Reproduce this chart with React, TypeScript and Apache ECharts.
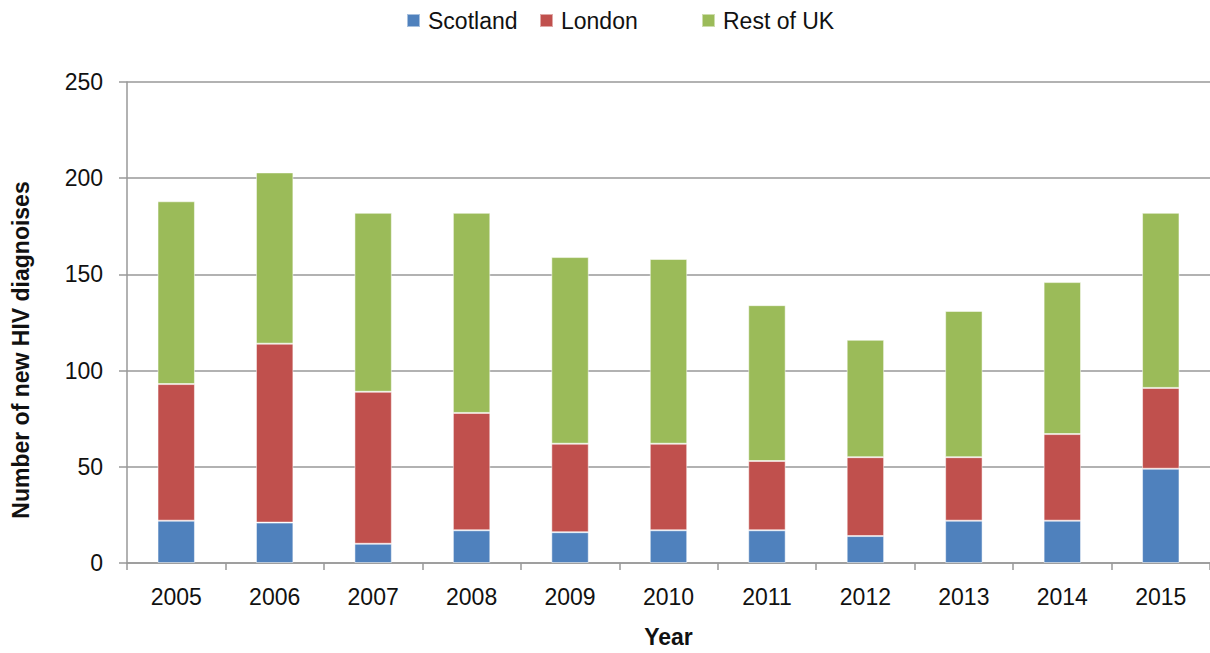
import React, { useEffect, useRef } from "react";
import * as echarts from "echarts";

const years = ["2005", "2006", "2007", "2008", "2009", "2010", "2011", "2012", "2013", "2014", "2015"];
const scotland = [22, 21, 10, 17, 16, 17, 17, 14, 22, 22, 49];
const london = [71, 93, 79, 61, 46, 45, 36, 41, 33, 45, 42];
const restOfUK = [95, 89, 93, 104, 97, 96, 81, 61, 76, 79, 91];
const seriesNames = ["Scotland", "London", "Rest of UK"];

const FONT = "'Liberation Sans', Arial, sans-serif";

export default function App() {
  const ref = useRef<HTMLDivElement>(null);
  useEffect(() => {
    if (!ref.current) return;
    const chart = echarts.init(ref.current, null, { renderer: "svg" });
    const mk = (name: string, data: number[], color: string) => ({
      name,
      type: "bar",
      stack: "total",
      data,
      barWidth: "38%",
      itemStyle: { color, borderColor: "rgba(255,255,255,0.5)", borderWidth: 1 },
    });
    const legendLefts = [401, 534, 696];
    chart.setOption({
      animation: false,
      textStyle: { fontFamily: FONT },
      legend: seriesNames.map((n, i) => ({
        top: 4,
        left: legendLefts[i],
        itemWidth: 13,
        itemHeight: 13,
        icon: "rect",
        textStyle: { fontSize: 23, color: "#111", fontFamily: FONT, padding: [0, 0, 0, 3] },
        data: [n],
      })),
      grid: { left: 127, right: -7, top: 82, bottom: 90, containLabel: false },
      xAxis: {
        type: "category",
        data: years,
        name: "Year",
        nameLocation: "middle",
        nameGap: 62,
        nameTextStyle: { fontSize: 23, fontWeight: "bold", color: "#111", fontFamily: FONT },
        axisLine: { lineStyle: { color: "#999", width: 1.5 } },
        axisTick: { show: true, alignWithLabel: false, length: 7, lineStyle: { color: "#999", width: 1.5 } },
        axisLabel: { fontSize: 23, color: "#111", margin: 22, fontFamily: FONT },
      },
      yAxis: {
        type: "value",
        min: 0,
        max: 250,
        interval: 50,
        axisLine: { show: true, lineStyle: { color: "#999", width: 1.5 } },
        axisTick: { show: true, length: 8, lineStyle: { color: "#999", width: 1.5 } },
        axisLabel: { fontSize: 23, color: "#111", margin: 24, fontFamily: FONT },
        splitLine: { lineStyle: { color: "#999", width: 1.5 } },
      },
      graphic: [
        {
          type: "text",
          x: 21,
          y: 350,
          rotation: Math.PI / 2,
          style: {
            text: "Number of new HIV diagnoises",
            fontSize: 23,
            fontWeight: "bold",
            fill: "#111",
            fontFamily: FONT,
            align: "center",
            verticalAlign: "middle",
          },
        },
      ],
      series: [
        mk(seriesNames[0], scotland, "#4F81BD"),
        mk(seriesNames[1], london, "#C0504D"),
        mk(seriesNames[2], restOfUK, "#9BBB59"),
      ],
    });
    return () => chart.dispose();
  }, []);
  return (
    <div
      ref={ref}
      style={{ position: "absolute", left: 0, top: 0, width: 1210, height: 653, background: "#fff" }}
    />
  );
}
